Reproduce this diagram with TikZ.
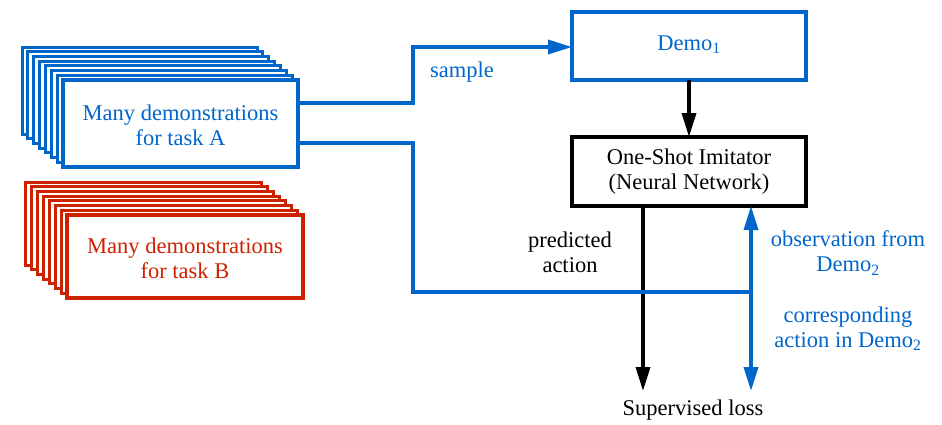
\documentclass[tikz,border=0pt]{standalone}
\usepackage{fontspec}
\setmainfont{Liberation Serif}
\usetikzlibrary{arrows.meta}
\definecolor{demoblue}{HTML}{0066CC}
\definecolor{demored}{HTML}{CC2200}
\begin{document}
\begin{tikzpicture}[x=1pt,y=-1pt,
  lw/.style={line width=3.5pt},
  card/.style={line width=3pt,draw=#1,fill=white},
  tip/.style={-{Triangle[length=24pt,width=14pt]}},
  lbl/.style={font=\fontsize{22.5}{25}\selectfont,align=center,inner sep=0pt}
]
\useasboundingbox (0,0) rectangle (942,424);

% stack of cards for task A
\foreach \i in {0,...,6}{
  \draw[card=demoblue] ({22+\i*41/7},{47+\i*33/7}) rectangle ++(235,87);
}
\draw[lw,draw=demoblue,fill=white] (63,80) rectangle (298,167);
\node[lbl,text=demoblue] (taskA) at (180.5,125) {Many demonstrations\\for task A};
\coordinate (Aup) at (298,103);
\coordinate (Adn) at (298,143);

% stack of cards for task B
\foreach \i in {0,...,6}{
  \draw[card=demored] ({25+\i*42/7},{182+\i*33/7}) rectangle ++(236,83);
}
\draw[lw,draw=demored,fill=white] (67,215) rectangle (303,298);
\node[lbl,text=demored] (taskB) at (185,258) {Many demonstrations\\for task B};

% Demo_1 and imitator
\draw[lw,draw=demoblue] (572,12) rectangle (806,80);
\node[lbl,text=demoblue] (demo) at (689,45) {Demo\textsubscript{1}};
\coordinate (demoW) at (572,47);
\coordinate (demoS) at (689,80);

\draw[lw,draw=black] (572,137) rectangle (806,206);
\node[lbl] (imit) at (689,172) {One-Shot Imitator\\(Neural Network)};
\coordinate (imitN) at (689,137);
\coordinate (imitS) at (643,206);
\coordinate (imitSE) at (751,206);

\node[lbl] (loss) at (693,410) {Supervised loss};
\coordinate (lossA) at (643,391);
\coordinate (lossB) at (751,391);
\coordinate (junc) at (751,292);

% connectors
\draw[lw,draw=demoblue,tip] (Aup) -| (413,47) -- (demoW);
\draw[lw,draw=black,tip] (demoS) -- (imitN);
\draw[lw,draw=black,tip] (imitS) -- (lossA);
\draw[lw,draw=demoblue] (Adn) -| (413,292) -- (junc);
\draw[lw,draw=demoblue,tip] (junc) -- (imitSE);
\draw[lw,draw=demoblue,tip] (junc) -- (lossB);

% labels
\node[lbl,text=demoblue] (sample) at (462,72) {sample};
\node[lbl] (pred) at (570,252) {predicted\\action};
\node[lbl,text=demoblue] (obs) at (848,253) {observation from\\Demo\textsubscript{2}};
\node[lbl,text=demoblue] (corr) at (848,329) {corresponding\\action in Demo\textsubscript{2}};
\end{tikzpicture}
\end{document}
